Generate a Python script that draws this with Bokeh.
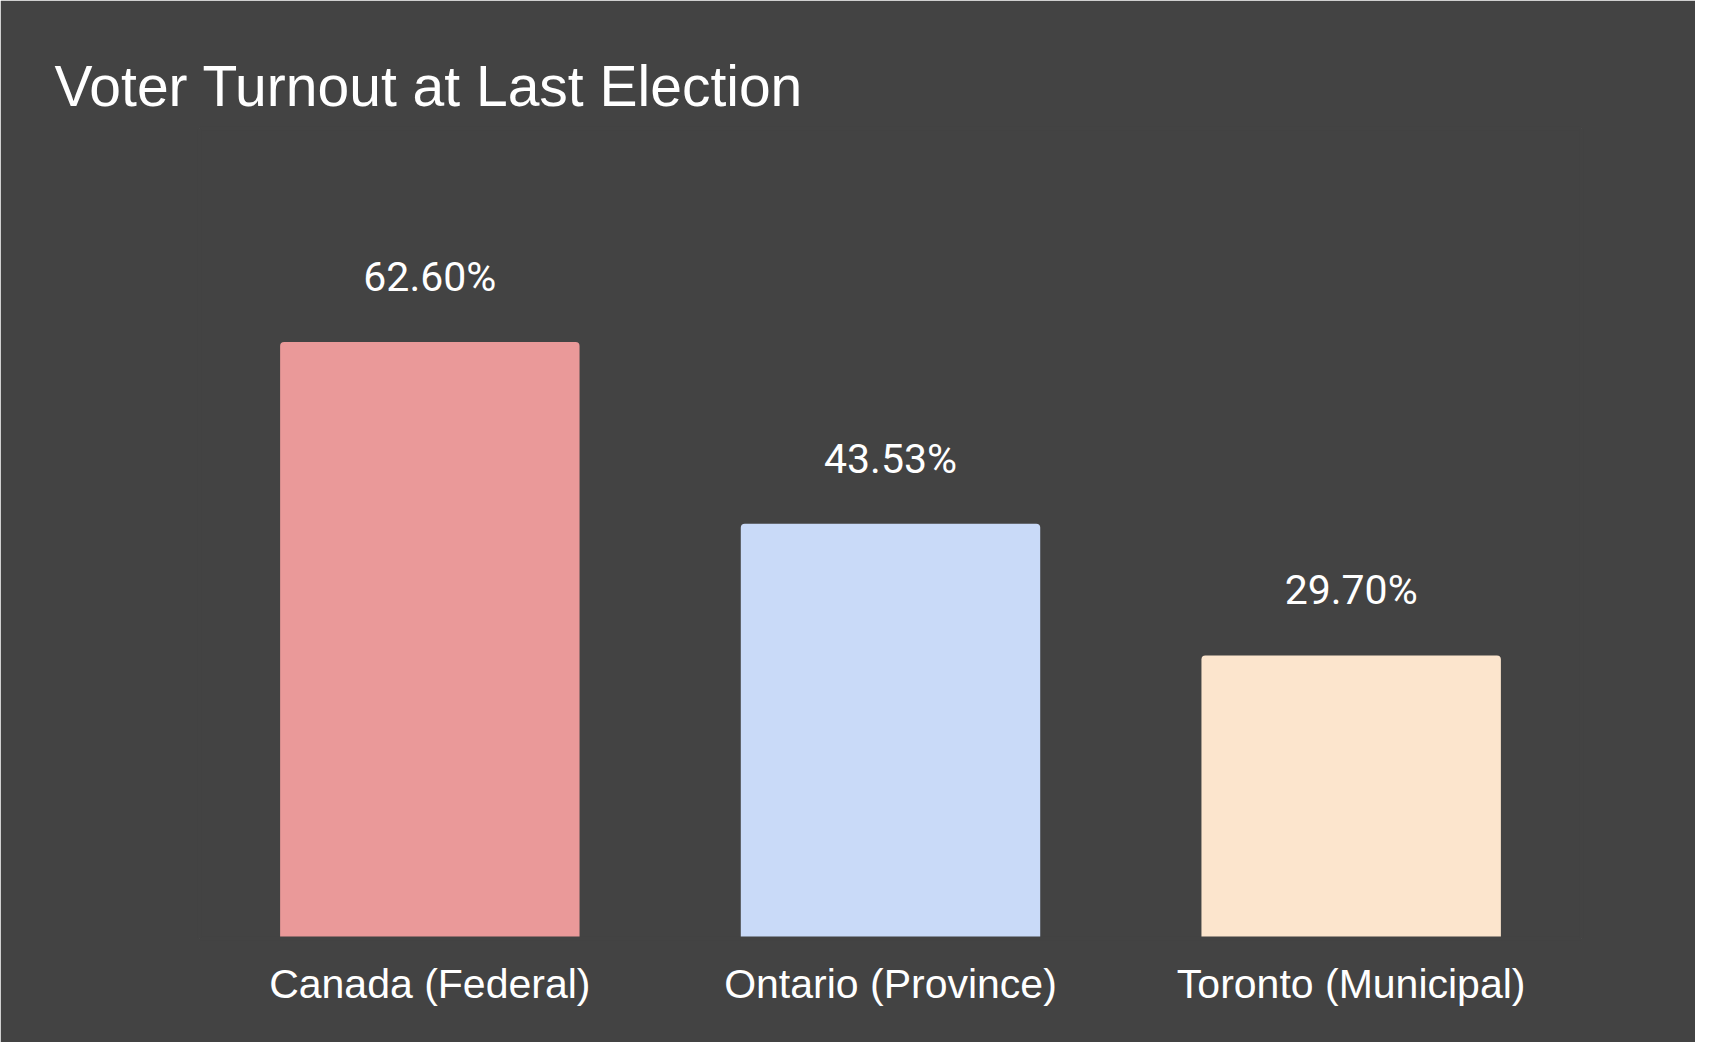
from bokeh.plotting import figure
from bokeh.models import (FactorRange, Range1d, ColumnDataSource, LinearAxis,
                          CategoricalAxis)
from bokeh.core.properties import value
from bokeh.embed import file_html
from bokeh.resources import INLINE

# ---- data ----
categories = ["Canada (Federal)", "Ontario (Province)", "Toronto (Municipal)"]
turnout = [62.60, 43.53, 29.70]
labels = ["62.60%", "43.53%", "29.70%"]
colors = ["#EA9999", "#C9DAF8", "#FCE5CD"]

BG = "#434343"

src = ColumnDataSource(dict(cat=categories, val=turnout, lab=labels, col=colors))

p = figure(
    x_range=FactorRange(factors=categories),
    y_range=Range1d(0, 85.0),
    width=1695, height=1042,
    output_backend="svg", toolbar_location=None,
    min_border_left=199, min_border_right=114,
    min_border_bottom=104, min_border_top=128,
    outline_line_color=None,
)

# keep explicit references to the default axes before adding more
bottom_ax = p.below[0]
left_ax = p.left[0]

p.vbar(x="cat", top="val", width=0.65, source=src, fill_color="col",
       line_color=None, border_radius=(4, 4, 0, 0))

p.text(x="cat", y="val", text="lab", source=src, y_offset=-65,
       text_align="center", text_baseline="alphabetic",
       text_font=value("Roboto"), text_font_size="41px", text_color="#FFFFFF")

p.title.text = "Voter Turnout at Last Election"
p.title.text_font = "Liberation Sans"
p.title.text_font_size = "57px"
p.title.text_font_style = "normal"
p.title.text_color = "#FFFFFF"
p.title.align = "left"
p.title.offset = -145
p.title.standoff = 21

p.background_fill_color = BG
p.border_fill_color = BG
p.outline_line_color = None
p.xgrid.grid_line_color = None
p.ygrid.grid_line_color = None


def blank_axis(a):
    # invisible axis whose background-coloured line hides the frame edge seam
    a.axis_line_color = BG
    a.axis_line_width = 4
    a.major_tick_line_color = None
    a.minor_tick_line_color = None
    a.major_tick_in = 0
    a.major_tick_out = 0
    a.minor_tick_in = 0
    a.minor_tick_out = 0
    a.major_label_standoff = 0
    a.major_label_text_font_size = "0px"
    a.major_label_text_alpha = 0


blank_axis(left_ax)

right_ax = LinearAxis()
blank_axis(right_ax)
p.add_layout(right_ax, "right")

top_ax = CategoricalAxis()
blank_axis(top_ax)
p.add_layout(top_ax, "above")

bottom_ax.axis_line_color = BG
bottom_ax.axis_line_width = 4
bottom_ax.major_tick_line_color = None
bottom_ax.minor_tick_line_color = None
bottom_ax.major_tick_in = 0
bottom_ax.major_tick_out = 0
bottom_ax.major_label_standoff = 22
bottom_ax.major_label_text_font = "Liberation Sans"
bottom_ax.major_label_text_font_size = "41px"
bottom_ax.major_label_text_color = "#FFFFFF"

html = file_html(p, INLINE)
html = html.replace("<body>", '<body style="background-color:%s;">' % BG, 1)
open("out.html", "w").write(html)
